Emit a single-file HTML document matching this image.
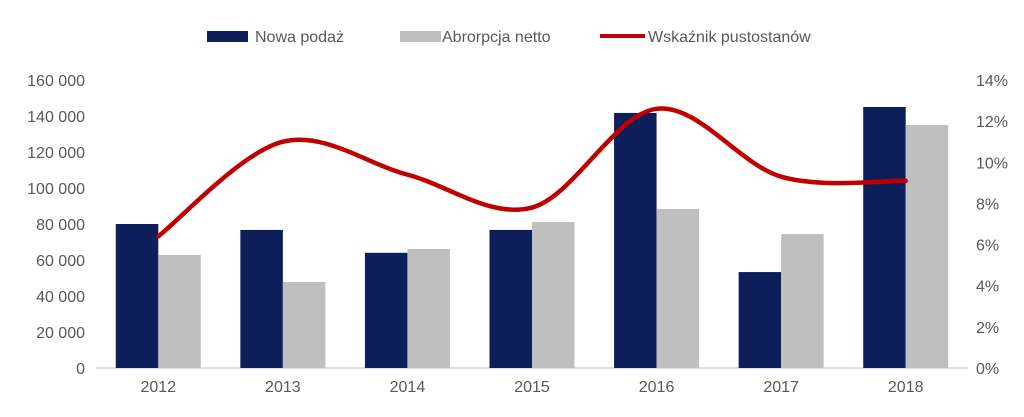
<!DOCTYPE html>
<html><head><meta charset="utf-8"><style>
body{margin:0;background:#fff;width:1024px;height:412px;overflow:hidden;font-family:"Liberation Sans","DejaVu Sans",sans-serif}
text{font-family:"Liberation Sans","DejaVu Sans",sans-serif;fill:#595959;font-size:16px}
</style></head><body>
<svg id="chart" width="1024" height="412" xmlns="http://www.w3.org/2000/svg">
<g>
<rect x="207" y="31" width="41" height="11" fill="#0c1f5b"/>
<text x="255" y="42">Nowa podaż</text>
<rect x="400" y="31" width="41" height="11" fill="#bfbfbf"/>
<text x="442" y="42">Abrorpcja netto</text>
<line x1="600" y1="36" x2="645" y2="36" stroke="#c00000" stroke-width="4"/>
<text x="648" y="42">Wskaźnik pustostanów</text>
</g>
<g id="marks"></g>
</svg>
<script>
const categories=["2012","2013","2014","2015","2016","2017","2018"];
const nowaPodaz=[80000,76700,64000,76700,141700,53300,145000];
const absorpcja=[62800,47800,66100,81100,88300,74400,135000];
const wskaznik=[6.4,11.0,9.4,7.8,12.6,9.3,9.1];
const leftTicks=[0,20000,40000,60000,80000,100000,120000,140000,160000];
const rightTicks=[0,2,4,6,8,10,12,14];
const NS="http://www.w3.org/2000/svg";
const x0=96,x1=968,yB=368,yT=80;
const band=(x1-x0)/categories.length;
const xc=i=>x0+band*(i+0.5);
const yL=v=>yB-(v/160000)*(yB-yT);
const yR=v=>yB-(v/14)*(yB-yT);
const g=document.getElementById('marks');
function mk(t,a){const e=document.createElementNS(NS,t);for(const k in a)e.setAttribute(k,a[k]);g.appendChild(e);return e;}
const fmt=v=>v===0?"0":String(v).replace(/\B(?=(\d{3})+(?!\d))/g," ");
leftTicks.forEach(v=>{const t=mk('text',{x:85,y:yL(v)+6,'text-anchor':'end'});t.textContent=fmt(v);

});
rightTicks.forEach(v=>{const t=mk('text',{x:976,y:yR(v)+6});t.textContent=v+"%";

});
const ax=mk('line',{x1:x0,y1:yB,x2:x1,y2:yB,stroke:'#bfbfbf','stroke-width':1});


const bw=42.5;
categories.forEach((c,i)=>{
 const b1=mk('rect',{x:xc(i)-bw,y:yL(nowaPodaz[i]),width:bw,height:yB-yL(nowaPodaz[i]),fill:'#0c1f5b'});
 
 
 const b2=mk('rect',{x:xc(i),y:yL(absorpcja[i]),width:bw,height:yB-yL(absorpcja[i]),fill:'#bfbfbf'});
 
 
 const t=mk('text',{x:xc(i),y:392,'text-anchor':'middle'});t.textContent=c;
 
 
});
const pts=wskaznik.map((v,i)=>[xc(i),yR(v)]);
let d="M"+pts[0][0]+","+pts[0][1];
for(let i=0;i<pts.length-1;i++){
 const p0=pts[Math.max(i-1,0)],p1=pts[i],p2=pts[i+1],p3=pts[Math.min(i+2,pts.length-1)];
 const k=1/6;
 d+=" C"+(p1[0]+(p2[0]-p0[0])*k)+","+(p1[1]+(p2[1]-p0[1])*k)+" "+(p2[0]-(p3[0]-p1[0])*k)+","+(p2[1]-(p3[1]-p1[1])*k)+" "+p2[0]+","+p2[1];
}
const ln=mk('path',{d:d,fill:'none',stroke:'#c00000','stroke-width':4.5,'stroke-linecap':'round'});


</script>
</body></html>
